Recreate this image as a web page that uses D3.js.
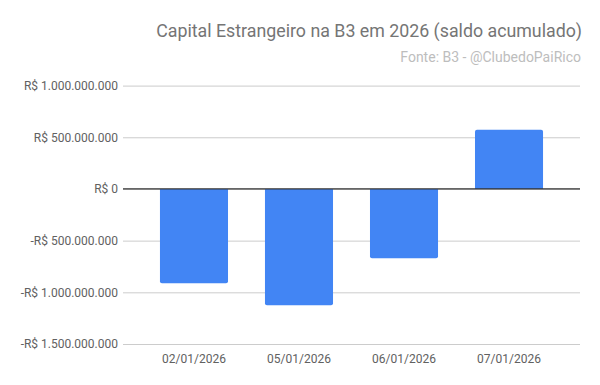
<!DOCTYPE html>
<html><head><meta charset="utf-8">
<script src="https://cdn.jsdelivr.net/npm/d3@7"></script>
<style>body{margin:0;background:#fff}svg{display:block}</style>
</head><body>
<svg id="c" width="600" height="385"></svg>
<script>
const categories = ["02/01/2026","05/01/2026","06/01/2026","07/01/2026"];
const values = [-913000000, -1126000000, -671000000, 573000000];
const yTicks = [1000000000, 500000000, 0, -500000000, -1000000000, -1500000000];
const title = "Capital Estrangeiro na B3 em 2026 (saldo acumulado)";
const subtitle = "Fonte: B3 - @ClubedoPaiRico";

const svg = d3.select("#c");
const font = "Roboto, sans-serif";
const mLeft = 123, mRight = 580, mTop = 85.6, mBottom = 344;

const y = d3.scaleLinear().domain([-1500000000, 1000000000]).range([mBottom, mTop]);
const x = d3.scaleBand().domain(categories).range([mLeft, mRight]).paddingInner(0.352).paddingOuter(0.352);

const fmt = v => {
  const s = d3.format(",")(Math.abs(v)).replace(/,/g, ".");
  return (v < 0 ? "-" : "") + "R$ " + s;
};

// grid
const yAxis = d3.axisLeft(y).tickValues(yTicks).tickSize(-(mRight - mLeft)).tickFormat(fmt).tickPadding(5);
const ga = svg.append("g").attr("transform", `translate(${mLeft},0)`).call(yAxis);
ga.select(".domain").remove();
ga.selectAll(".tick line").attr("stroke", "#cccccc").attr("stroke-width", 1);
ga.selectAll(".tick text").attr("fill", "#616161").style("font-family", font).style("font-size", "12px");

// bars
svg.append("g").selectAll("path").data(values).join("path")
  .attr("fill", "#4285f4")
  .attr("d", (d, i) => {
    const x0 = x(categories[i]), w = x.bandwidth();
    const y0 = y(0), y1 = y(d), r = 2;
    const p = d3.path();
    if (d >= 0) {
      p.moveTo(x0, y0); p.lineTo(x0, y1 + r); p.quadraticCurveTo(x0, y1, x0 + r, y1);
      p.lineTo(x0 + w - r, y1); p.quadraticCurveTo(x0 + w, y1, x0 + w, y1 + r); p.lineTo(x0 + w, y0);
    } else {
      p.moveTo(x0, y0); p.lineTo(x0, y1 - r); p.quadraticCurveTo(x0, y1, x0 + r, y1);
      p.lineTo(x0 + w - r, y1); p.quadraticCurveTo(x0 + w, y1, x0 + w, y1 - r); p.lineTo(x0 + w, y0);
    }
    p.closePath();
    return p.toString();
  });

// zero line
svg.append("line").attr("x1", mLeft).attr("x2", mRight).attr("y1", y(0)).attr("y2", y(0))
  .attr("stroke", "#333333").attr("stroke-width", 1.2);

// x axis
const xAxis = d3.axisBottom(x).tickSize(0).tickPadding(10);
const gx = svg.append("g").attr("transform", `translate(0,${mBottom})`).call(xAxis);
gx.select(".domain").remove();
gx.selectAll(".tick text").attr("fill", "#616161").style("font-family", font).style("font-size", "12px");

// titles
svg.append("text").attr("x", 582).attr("y", 37).attr("text-anchor", "end")
  .attr("fill", "#757575").style("font-family", font).style("font-size", "17.8px").text(title);
svg.append("text").attr("x", 581).attr("y", 62).attr("text-anchor", "end")
  .attr("fill", "#bdbdbd").style("font-family", font).style("font-size", "14px").text(subtitle);
</script>
</body></html>
